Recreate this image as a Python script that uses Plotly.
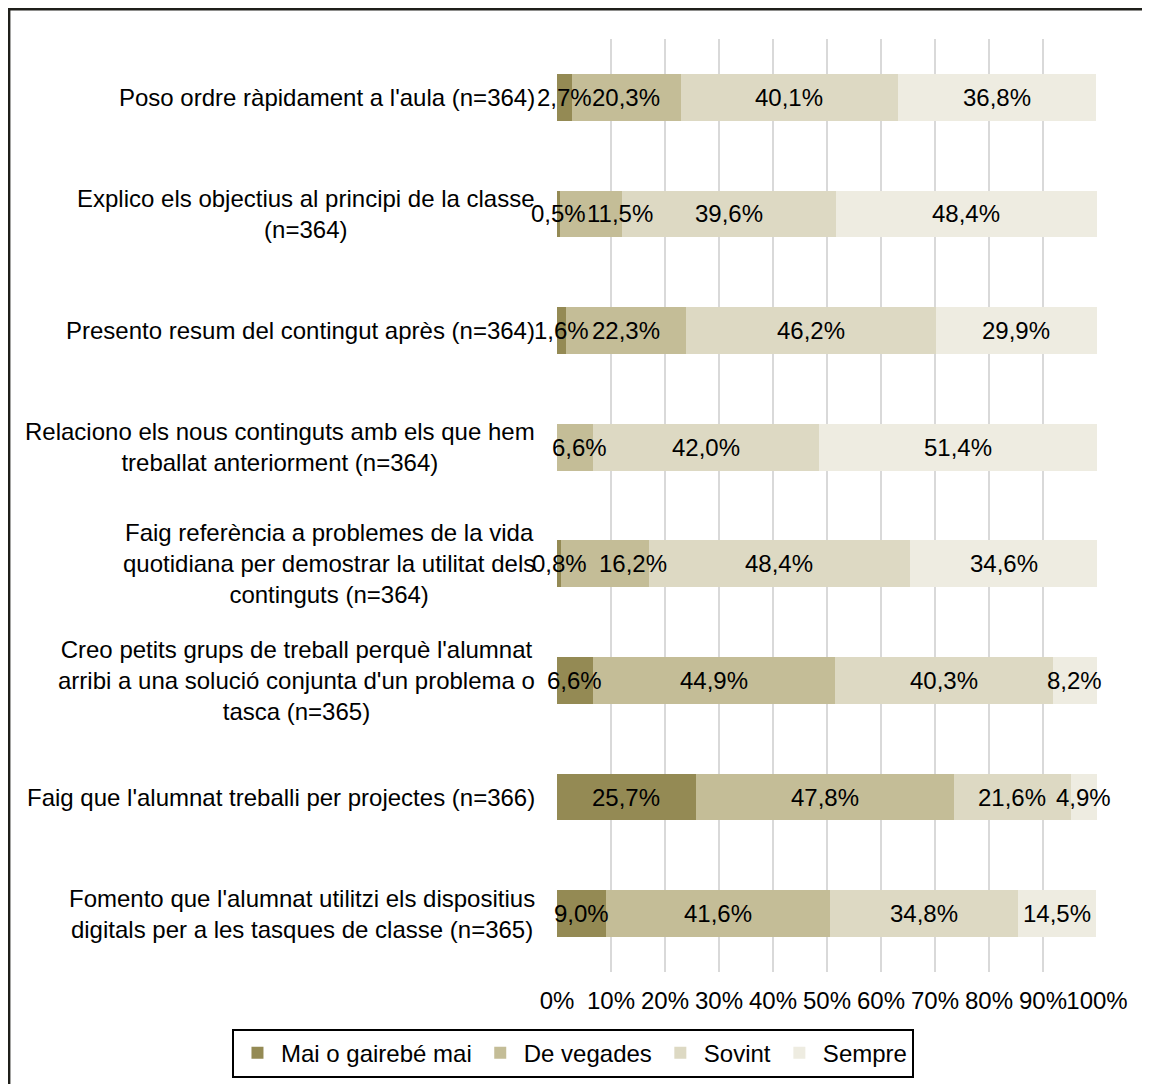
import plotly.graph_objects as go

categories = [
    "Poso ordre ràpidament a l'aula (n=364)",
    "Explico els objectius al principi de la classe<br>(n=364)",
    "Presento resum del contingut après (n=364)",
    "Relaciono els nous continguts amb els que hem<br>treballat anteriorment (n=364)",
    "Faig referència a problemes de la vida<br>quotidiana per demostrar la utilitat dels<br>continguts (n=364)",
    "Creo petits grups de treball perquè l'alumnat<br>arribi a una solució conjunta d'un problema o<br>tasca (n=365)",
    "Faig que l'alumnat treballi per projectes (n=366)",
    "Fomento que l'alumnat utilitzi els dispositius<br>digitals per a les tasques de classe (n=365)",
]

series_names = ["Mai o gairebé mai", "De vegades", "Sovint", "Sempre"]
mai = [2.7, 0.5, 1.6, 0.0, 0.8, 6.6, 25.7, 9.0]
de_vegades = [20.3, 11.5, 22.3, 6.6, 16.2, 44.9, 47.8, 41.6]
sovint = [40.1, 39.6, 46.2, 42.0, 48.4, 40.3, 21.6, 34.8]
sempre = [36.8, 48.4, 29.9, 51.4, 34.6, 8.2, 4.9, 14.5]
colors = ["#948A54", "#C4BD97", "#DDD9C3", "#EEECE1"]
tick_vals = [0, 10, 20, 30, 40, 50, 60, 70, 80, 90, 100]
tick_text = [f"{v}%" for v in tick_vals]

# horizontal nudges (px) of some data labels, as placed in the original chart
label_nudge = {(1, 1): 29, (1, 4): 28, (1, 3): 5}

FONT = "Liberation Sans, Arial, sans-serif"
FS = 24
ids = list(range(len(categories)))
all_series = [mai, de_vegades, sovint, sempre]

def fmt(v):
    return "" if v == 0 else f"{v:.1f}".replace(".", ",") + "%"

fig = go.Figure()
for name, vals, col in zip(series_names, all_series, colors):
    fig.add_trace(go.Bar(
        y=ids, x=vals, name=name, orientation="h",
        marker=dict(color=col, line=dict(width=0)),
        hoverinfo="skip",
    ))

# data labels drawn on top of all bars (centred in each segment)
cum = [0.0] * len(ids)
for s, vals in enumerate(all_series):
    for i, (c, v) in enumerate(zip(cum, vals)):
        t = fmt(v)
        if t:
            fig.add_annotation(
                x=c + v / 2, y=i, xref="x", yref="y", text=t, showarrow=False,
                xanchor="center", yanchor="middle",
                xshift=label_nudge.get((s, i), 0),
                font=dict(family=FONT, size=FS, color="#000000"),
            )
    cum = [c + v for c, v in zip(cum, vals)]

for i, c in zip(ids, categories):
    fig.add_annotation(
        x=0, xref="paper", y=i, yref="y", text=c, showarrow=False,
        xanchor="right", align="center", xshift=-20,
        font=dict(family=FONT, size=FS, color="#000000"),
    )

# outer frame (top and left edges visible)
fig.add_shape(type="path", xref="paper", yref="paper",
              path="M -1.015,-0.2 L -1.015,1.0322 L 0.2,1.0322",
              line=dict(color="#1F1F1A", width=3))
fig.add_shape(type="line", xref="paper", yref="paper",
              x0=0.2, x1=1.2, y0=1.0322, y1=1.0322,
              line=dict(color="#1F1F1A", width=3))

fig.update_layout(
    width=1142, height=1076,
    margin=dict(l=549, r=53, t=31, b=112, autoexpand=False),
    barmode="stack", bargap=0.6,
    plot_bgcolor="white", paper_bgcolor="white",
    font=dict(family=FONT, size=FS, color="#000000"),
    xaxis=dict(range=[0, 100], tickvals=tick_vals, ticktext=tick_text,
               tickangle=0,
               showgrid=True, gridcolor="#D9D9D9", gridwidth=2,
               zeroline=False, showline=False,
               ticks="outside", ticklen=7, tickcolor="rgba(0,0,0,0)",
               tickfont=dict(family=FONT, size=FS, color="#000000")),
    yaxis=dict(range=[7.5, -0.5], showticklabels=False, showgrid=False,
               zeroline=False, showline=False, ticks=""),
    legend=dict(orientation="h", x=-0.6019, xanchor="left",
                y=-0.0607, yanchor="top", itemwidth=37,
                bordercolor="#000000", borderwidth=2,
                font=dict(family=FONT, size=FS, color="#000000"),
                traceorder="normal"),
    showlegend=True,
)

fig.write_html("out.html")
